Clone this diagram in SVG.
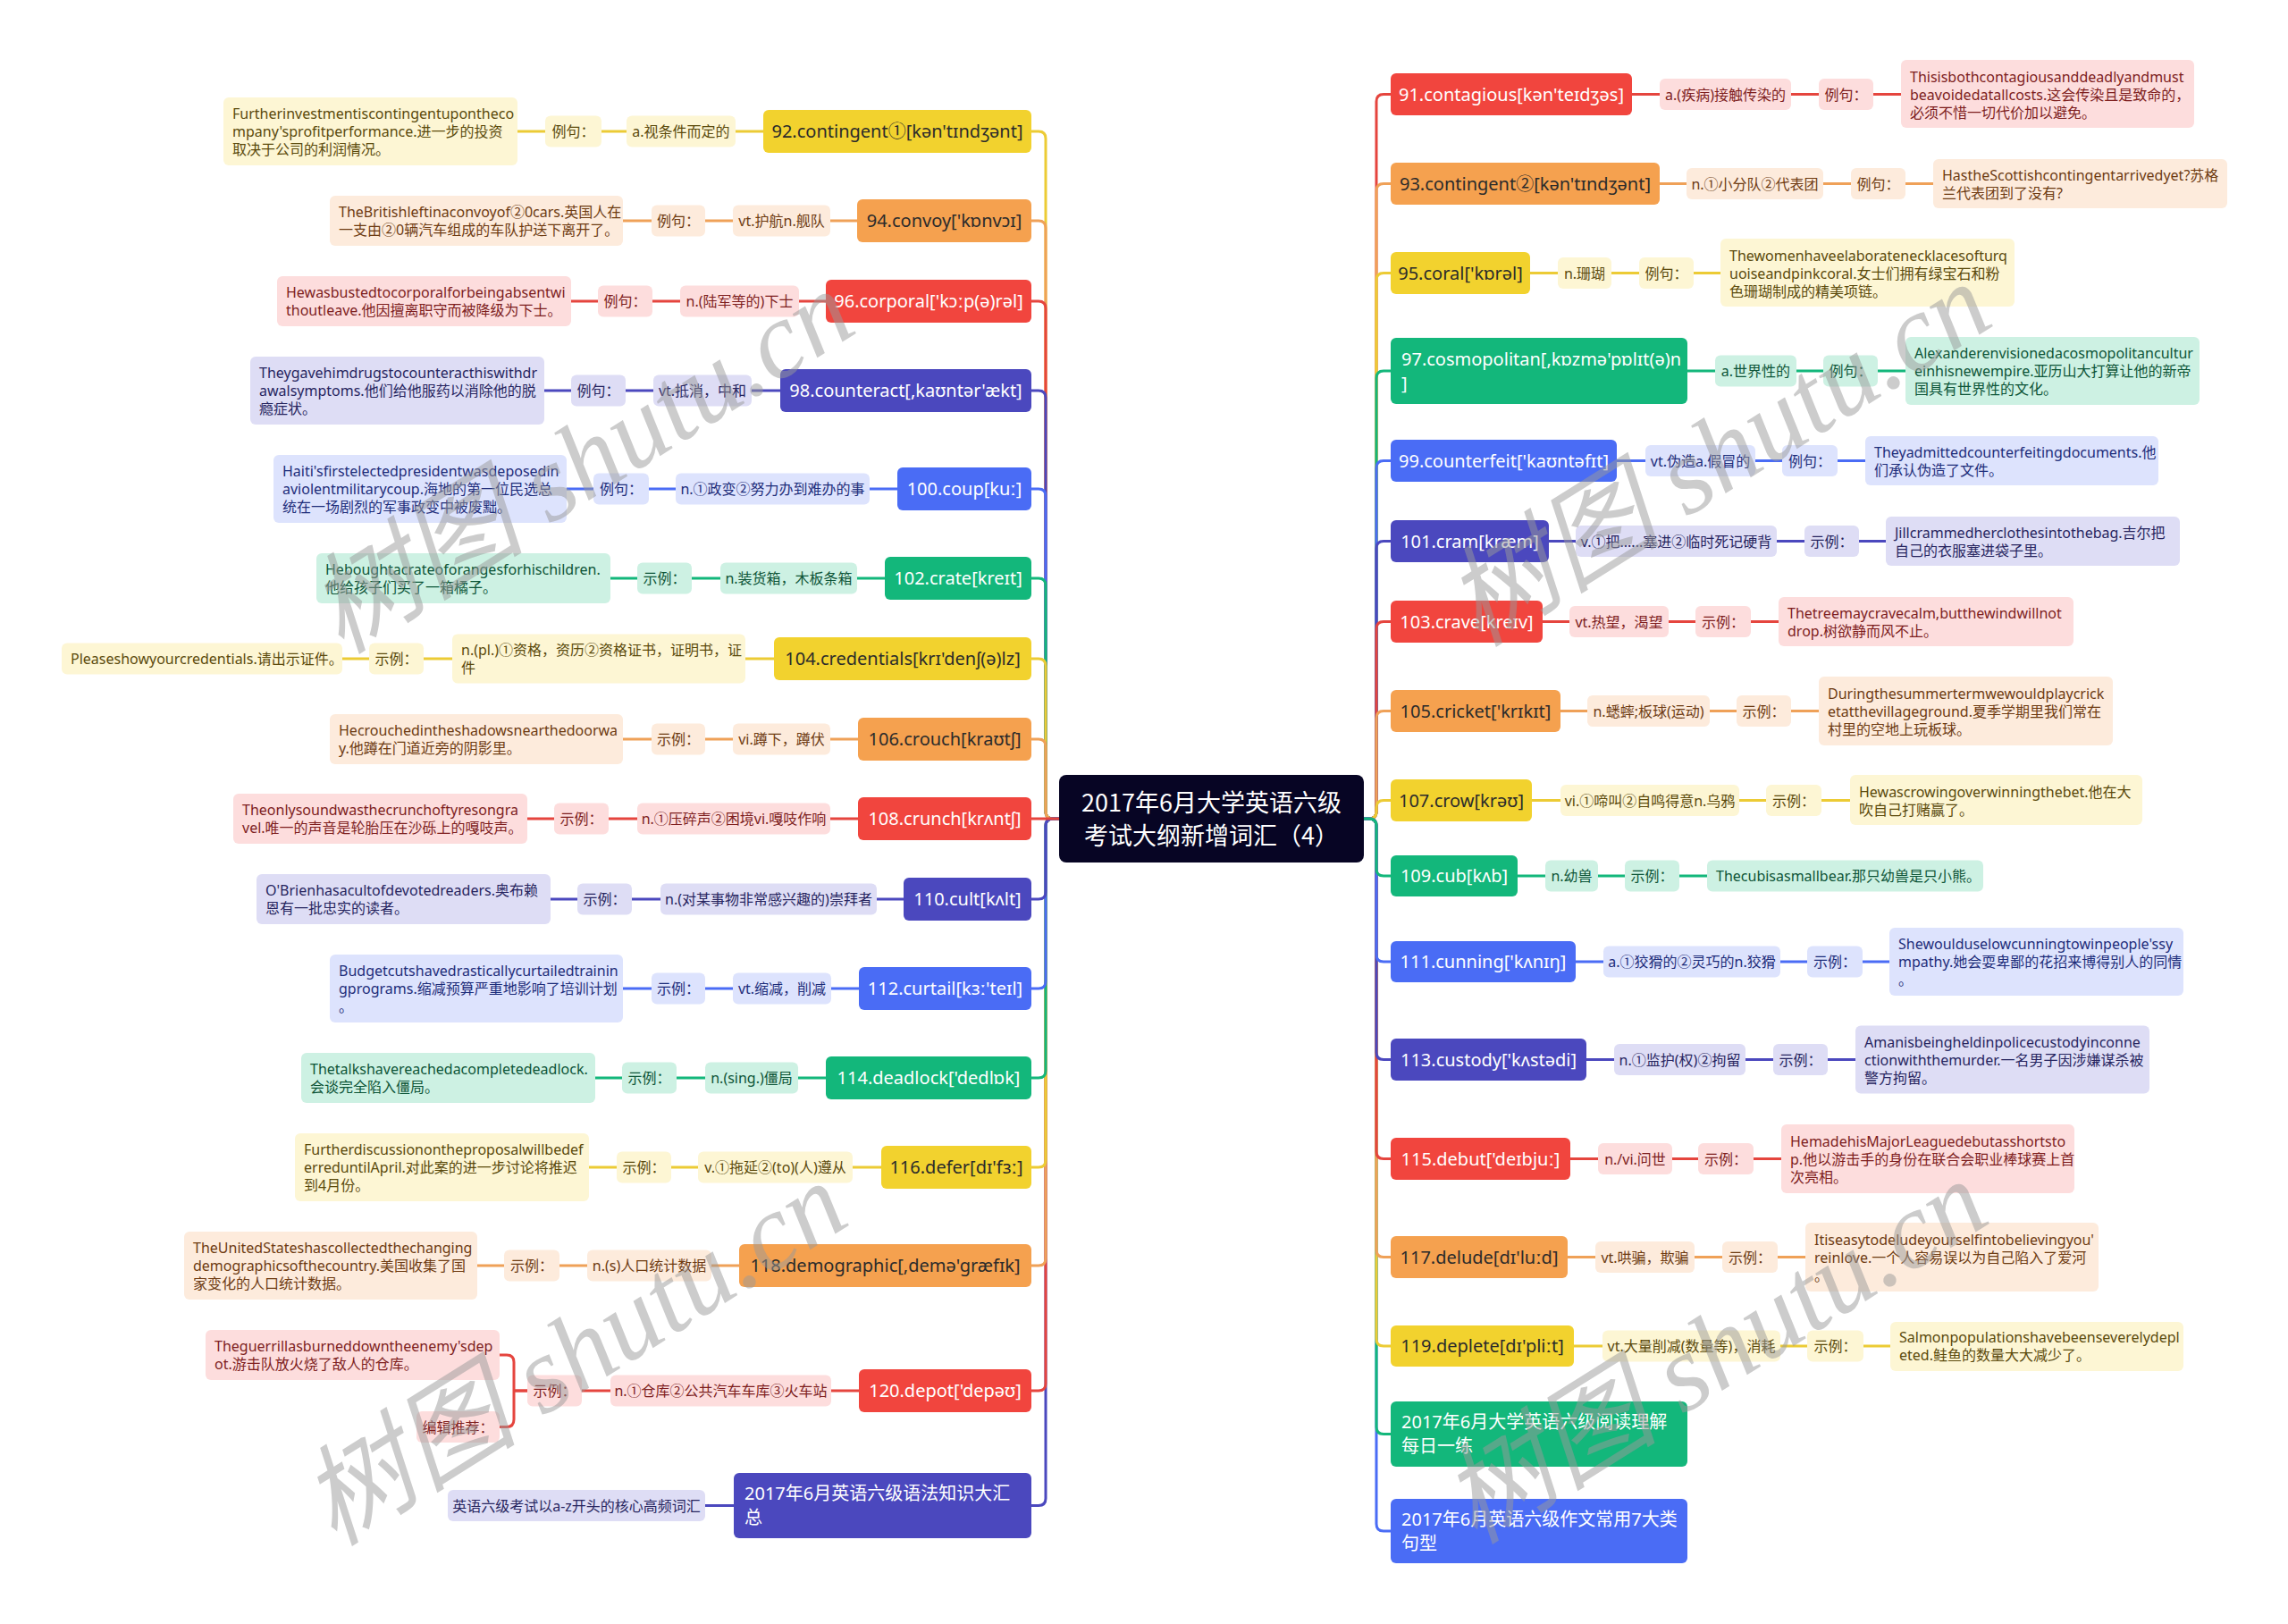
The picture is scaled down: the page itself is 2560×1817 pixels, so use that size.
<svg xmlns="http://www.w3.org/2000/svg" width="2560" height="1817" viewBox="0 0 2560 1817">
<style>
text{font-family:"Noto Sans","Noto Sans CJK SC",sans-serif}
.t{font-size:16px}
.tm{font-size:20px}
.c{text-anchor:middle}
.k{fill:#2b2b2b}.w{fill:#ffffff}
.fY{fill:#F2D22E}.lY{fill:#FDF6D4}.sY{stroke:#ECCB35}.dY{fill:#5B4A0C}
.fO{fill:#F5A14F}.lO{fill:#FDEBDC}.sO{stroke:#EFA158}.dO{fill:#6E3B12}
.fR{fill:#F1453E}.lR{fill:#FDDDDD}.sR{stroke:#E5453E}.dR{fill:#7E1E1E}
.fI{fill:#4B48BE}.lI{fill:#DEDDF5}.sI{stroke:#4B48BE}.dI{fill:#27255F}
.fB{fill:#4A6CF5}.lB{fill:#DDE3FD}.sB{stroke:#4A6CF5}.dB{fill:#1D2D7A}
.fG{fill:#13B77B}.lG{fill:#CDF1E3}.sG{stroke:#13B77B}.dG{fill:#0D5538}
#connectors path{fill:none;stroke-width:3}
.wm{font-family:"Liberation Serif","Noto Sans CJK SC",serif;font-style:italic;font-size:122px;fill:#9a9a9a;opacity:.5;text-anchor:middle}
.ttl{font-family:"Noto Sans CJK SC",sans-serif;font-size:27px;fill:#ffffff;text-anchor:middle}
</style>
<rect width="2560" height="1817" fill="#ffffff"/>
<g id="connectors">
<path class="sY" d="M1185,916 H1178 Q1170,916 1170,908 V155 Q1170,147 1162,147 H1154"/>
<path class="sO" d="M1185,916 H1178 Q1170,916 1170,908 V255 Q1170,247 1162,247 H1154"/>
<path class="sR" d="M1185,916 H1178 Q1170,916 1170,908 V345 Q1170,337 1162,337 H1154"/>
<path class="sI" d="M1185,916 H1178 Q1170,916 1170,908 V445 Q1170,437 1162,437 H1154"/>
<path class="sB" d="M1185,916 H1178 Q1170,916 1170,908 V555 Q1170,547 1162,547 H1154"/>
<path class="sG" d="M1185,916 H1178 Q1170,916 1170,908 V655 Q1170,647 1162,647 H1154"/>
<path class="sY" d="M1185,916 H1178 Q1170,916 1170,908 V745 Q1170,737 1162,737 H1154"/>
<path class="sO" d="M1185,916 H1178 Q1170,916 1170,908 V835 Q1170,827 1162,827 H1154"/>
<path class="sI" d="M1185,916 H1178 Q1170,916 1170,924 V1676.5 Q1170,1684.5 1162,1684.5 H1154"/>
<path class="sR" d="M1185,916 H1178 Q1170,916 1170,924 V1548 Q1170,1556 1162,1556 H1154"/>
<path class="sO" d="M1185,916 H1178 Q1170,916 1170,924 V1408 Q1170,1416 1162,1416 H1154"/>
<path class="sY" d="M1185,916 H1178 Q1170,916 1170,924 V1298 Q1170,1306 1162,1306 H1154"/>
<path class="sG" d="M1185,916 H1178 Q1170,916 1170,924 V1198 Q1170,1206 1162,1206 H1154"/>
<path class="sB" d="M1185,916 H1178 Q1170,916 1170,924 V1098 Q1170,1106 1162,1106 H1154"/>
<path class="sI" d="M1185,916 H1178 Q1170,916 1170,924 V998 Q1170,1006 1162,1006 H1154"/>
<path class="sR" d="M1185,916 H1154"/>
<path class="sR" d="M1526,916 H1532 Q1540,916 1540,908 V113.5 Q1540,105.5 1548,105.5 H1556"/>
<path class="sO" d="M1526,916 H1532 Q1540,916 1540,908 V213.5 Q1540,205.5 1548,205.5 H1556"/>
<path class="sY" d="M1526,916 H1532 Q1540,916 1540,908 V313.5 Q1540,305.5 1548,305.5 H1556"/>
<path class="sG" d="M1526,916 H1532 Q1540,916 1540,908 V423 Q1540,415 1548,415 H1556"/>
<path class="sB" d="M1526,916 H1532 Q1540,916 1540,908 V523.5 Q1540,515.5 1548,515.5 H1556"/>
<path class="sI" d="M1526,916 H1532 Q1540,916 1540,908 V613.5 Q1540,605.5 1548,605.5 H1556"/>
<path class="sR" d="M1526,916 H1532 Q1540,916 1540,908 V703.5 Q1540,695.5 1548,695.5 H1556"/>
<path class="sO" d="M1526,916 H1532 Q1540,916 1540,908 V803.5 Q1540,795.5 1548,795.5 H1556"/>
<path class="sY" d="M1526,916 H1532 Q1540,916 1540,908 V903.5 Q1540,895.5 1548,895.5 H1556"/>
<path class="sB" d="M1526,916 H1532 Q1540,916 1540,924 V1705 Q1540,1713 1548,1713 H1556"/>
<path class="sG" d="M1526,916 H1532 Q1540,916 1540,924 V1596.5 Q1540,1604.5 1548,1604.5 H1556"/>
<path class="sY" d="M1526,916 H1532 Q1540,916 1540,924 V1498 Q1540,1506 1548,1506 H1556"/>
<path class="sO" d="M1526,916 H1532 Q1540,916 1540,924 V1398.5 Q1540,1406.5 1548,1406.5 H1556"/>
<path class="sR" d="M1526,916 H1532 Q1540,916 1540,924 V1288.5 Q1540,1296.5 1548,1296.5 H1556"/>
<path class="sI" d="M1526,916 H1532 Q1540,916 1540,924 V1177.5 Q1540,1185.5 1548,1185.5 H1556"/>
<path class="sB" d="M1526,916 H1532 Q1540,916 1540,924 V1068 Q1540,1076 1548,1076 H1556"/>
<path class="sG" d="M1526,916 H1532 Q1540,916 1540,924 V972 Q1540,980 1548,980 H1556"/>
<path class="sY" d="M854,147 H579"/>
<path class="sO" d="M959,247 H697"/>
<path class="sR" d="M924,337 H639"/>
<path class="sI" d="M873,437 H609"/>
<path class="sB" d="M1004,547 H634"/>
<path class="sG" d="M990,647 H683"/>
<path class="sY" d="M866,737 H383"/>
<path class="sO" d="M960,827 H697"/>
<path class="sR" d="M960,916 H590"/>
<path class="sI" d="M1011,1006 H616"/>
<path class="sB" d="M961,1106 H697"/>
<path class="sG" d="M924,1206 H666"/>
<path class="sY" d="M986,1306 H659"/>
<path class="sO" d="M827,1416 H534"/>
<path class="sR" d="M961,1556 H575"/>
<path class="sR" d="M590,1556 H575 V1524 Q575,1516 567,1516 H559 M575,1556 V1588 Q575,1596.5 567,1596.5 H559"/>
<path class="sI" d="M821,1684.5 H789"/>
<path class="sR" d="M1826,105.5 H2127"/>
<path class="sO" d="M1857,205.5 H2163"/>
<path class="sY" d="M1712,305.5 H1925"/>
<path class="sG" d="M1888,415 H2132"/>
<path class="sB" d="M1809,515.5 H2087"/>
<path class="sI" d="M1733,605.5 H2110"/>
<path class="sR" d="M1726,695.5 H1990"/>
<path class="sO" d="M1746,795.5 H2035"/>
<path class="sY" d="M1714,895.5 H2070"/>
<path class="sG" d="M1698,980 H1910"/>
<path class="sB" d="M1763,1076 H2114"/>
<path class="sI" d="M1775,1185.5 H2076"/>
<path class="sR" d="M1757,1296.5 H1993"/>
<path class="sO" d="M1754,1406.5 H2020"/>
<path class="sY" d="M1761,1506 H2115"/>
</g>
<g id="center">
<rect x="1185" y="867" width="341" height="98" rx="8" fill="#070524"/>
<text class="ttl" x="1355.5" y="908">2017年6月大学英语六级</text>
<text class="ttl" x="1355.5" y="945">考试大纲新增词汇（4）</text>
</g>
<!-- LEFT -->
<g id="n92"><rect class="fY" x="854" y="123" width="300" height="48" rx="6"/><text class="tm k c" x="1004" y="154">92.contingent①[kən'tɪndʒənt]</text></g>
<g id="n92-def"><rect class="lY" x="701" y="129.5" width="122" height="35" rx="6"/><text class="t dY c" x="762" y="153">a.视条件而定的</text></g>
<g id="n92-lab"><rect class="lY" x="610" y="129.5" width="63" height="35" rx="6"/><text class="t dY c" x="641.5" y="153">例句：</text></g>
<g id="n92-ex"><rect class="lY" x="250" y="109" width="329" height="76" rx="6"/><text class="t dY"><tspan x="260" y="133">Furtherinvestmentiscontingentupontheco</tspan><tspan x="260" y="153">mpany'sprofitperformance.进一步的投资</tspan><tspan x="260" y="173">取决于公司的利润情况。</tspan></text></g>

<g id="n94"><rect class="fO" x="959" y="223" width="195" height="48" rx="6"/><text class="tm k c" x="1056.5" y="254">94.convoy['kɒnvɔɪ]</text></g>
<g id="n94-def"><rect class="lO" x="820" y="229.5" width="109" height="35" rx="6"/><text class="t dO c" x="874.5" y="253">vt.护航n.舰队</text></g>
<g id="n94-lab"><rect class="lO" x="729" y="229.5" width="60" height="35" rx="6"/><text class="t dO c" x="759" y="253">例句：</text></g>
<g id="n94-ex"><rect class="lO" x="369" y="219" width="328" height="56" rx="6"/><text class="t dO"><tspan x="379" y="243">TheBritishleftinaconvoyof②0cars.英国人在</tspan><tspan x="379" y="263">一支由②0辆汽车组成的车队护送下离开了。</tspan></text></g>

<g id="n96"><rect class="fR" x="924" y="313" width="230" height="48" rx="6"/><text class="tm w c" x="1039" y="344">96.corporal['kɔːp(ə)rəl]</text></g>
<g id="n96-def"><rect class="lR" x="761" y="319.5" width="133" height="35" rx="6"/><text class="t dR c" x="827.5" y="343">n.(陆军等的)下士</text></g>
<g id="n96-lab"><rect class="lR" x="669" y="319.5" width="61" height="35" rx="6"/><text class="t dR c" x="699.5" y="343">例句：</text></g>
<g id="n96-ex"><rect class="lR" x="310" y="309" width="329" height="56" rx="6"/><text class="t dR"><tspan x="320" y="333">Hewasbustedtocorporalforbeingabsentwi</tspan><tspan x="320" y="353">thoutleave.他因擅离职守而被降级为下士。</tspan></text></g>

<g id="n98"><rect class="fI" x="873" y="413" width="281" height="48" rx="6"/><text class="tm w c" x="1013.5" y="444">98.counteract[,kaʊntər'ækt]</text></g>
<g id="n98-def"><rect class="lI" x="731" y="419.5" width="110" height="35" rx="6"/><text class="t dI c" x="786" y="443">vt.抵消，中和</text></g>
<g id="n98-lab"><rect class="lI" x="639" y="419.5" width="61" height="35" rx="6"/><text class="t dI c" x="669.5" y="443">例句：</text></g>
<g id="n98-ex"><rect class="lI" x="280" y="399" width="329" height="76" rx="6"/><text class="t dI"><tspan x="290" y="423">Theygavehimdrugstocounteracthiswithdr</tspan><tspan x="290" y="443">awalsymptoms.他们给他服药以消除他的脱</tspan><tspan x="290" y="463">瘾症状。</tspan></text></g>

<g id="n100"><rect class="fB" x="1004" y="523" width="150" height="48" rx="6"/><text class="tm w c" x="1079" y="554">100.coup[kuː]</text></g>
<g id="n100-def"><rect class="lB" x="756" y="529.5" width="217" height="35" rx="6"/><text class="t dB c" x="864.5" y="553">n.①政变②努力办到难办的事</text></g>
<g id="n100-lab"><rect class="lB" x="664" y="529.5" width="62" height="35" rx="6"/><text class="t dB c" x="695" y="553">例句：</text></g>
<g id="n100-ex"><rect class="lB" x="306" y="509" width="328" height="76" rx="6"/><text class="t dB"><tspan x="316" y="533">Haiti'sfirstelectedpresidentwasdeposedin</tspan><tspan x="316" y="553">aviolentmilitarycoup.海地的第一位民选总</tspan><tspan x="316" y="573">统在一场剧烈的军事政变中被废黜。</tspan></text></g>

<g id="n102"><rect class="fG" x="990" y="623" width="164" height="48" rx="6"/><text class="tm w c" x="1072" y="654">102.crate[kreɪt]</text></g>
<g id="n102-def"><rect class="lG" x="806" y="629.5" width="153" height="35" rx="6"/><text class="t dG c" x="882.5" y="653">n.装货箱，木板条箱</text></g>
<g id="n102-lab"><rect class="lG" x="713" y="629.5" width="61" height="35" rx="6"/><text class="t dG c" x="743.5" y="653">示例：</text></g>
<g id="n102-ex"><rect class="lG" x="354" y="619" width="329" height="56" rx="6"/><text class="t dG"><tspan x="364" y="643">Heboughtacrateoforangesforhischildren.</tspan><tspan x="364" y="663">他给孩子们买了一箱橘子。</tspan></text></g>

<g id="n104"><rect class="fY" x="866" y="713" width="288" height="48" rx="6"/><text class="tm k c" x="1010" y="744">104.credentials[krɪ'denʃ(ə)lz]</text></g>
<g id="n104-def"><rect class="lY" x="506" y="709.5" width="328" height="55" rx="6"/><text class="t dY"><tspan x="516" y="733">n.(pl.)①资格，资历②资格证书，证明书，证</tspan><tspan x="516" y="753">件</tspan></text></g>
<g id="n104-lab"><rect class="lY" x="413" y="719.5" width="61" height="35" rx="6"/><text class="t dY c" x="443.5" y="743">示例：</text></g>
<g id="n104-ex"><rect class="lY" x="69" y="719.5" width="314" height="35" rx="6"/><text class="t dY" x="79" y="743">Pleaseshowyourcredentials.请出示证件。</text></g>

<g id="n106"><rect class="fO" x="960" y="803" width="194" height="48" rx="6"/><text class="tm k c" x="1057" y="834">106.crouch[kraʊtʃ]</text></g>
<g id="n106-def"><rect class="lO" x="820" y="809.5" width="109" height="35" rx="6"/><text class="t dO c" x="874.5" y="833">vi.蹲下，蹲伏</text></g>
<g id="n106-lab"><rect class="lO" x="729" y="809.5" width="60" height="35" rx="6"/><text class="t dO c" x="759" y="833">示例：</text></g>
<g id="n106-ex"><rect class="lO" x="369" y="799" width="328" height="56" rx="6"/><text class="t dO"><tspan x="379" y="823">Hecrouchedintheshadowsnearthedoorwa</tspan><tspan x="379" y="843">y.他蹲在门道近旁的阴影里。</tspan></text></g>

<g id="n108"><rect class="fR" x="960" y="892" width="194" height="48" rx="6"/><text class="tm w c" x="1057" y="923">108.crunch[krʌntʃ]</text></g>
<g id="n108-def"><rect class="lR" x="713" y="898.5" width="216" height="35" rx="6"/><text class="t dR c" x="821" y="922">n.①压碎声②困境vi.嘎吱作响</text></g>
<g id="n108-lab"><rect class="lR" x="620" y="898.5" width="61" height="35" rx="6"/><text class="t dR c" x="650.5" y="922">示例：</text></g>
<g id="n108-ex"><rect class="lR" x="261" y="888" width="329" height="56" rx="6"/><text class="t dR"><tspan x="271" y="912">Theonlysoundwasthecrunchoftyresongra</tspan><tspan x="271" y="932">vel.唯一的声音是轮胎压在沙砾上的嘎吱声。</tspan></text></g>

<g id="n110"><rect class="fI" x="1011" y="982" width="143" height="48" rx="6"/><text class="tm w c" x="1082.5" y="1013">110.cult[kʌlt]</text></g>
<g id="n110-def"><rect class="lI" x="739" y="988.5" width="242" height="35" rx="6"/><text class="t dI c" x="860" y="1012">n.(对某事物非常感兴趣的)崇拜者</text></g>
<g id="n110-lab"><rect class="lI" x="646" y="988.5" width="61" height="35" rx="6"/><text class="t dI c" x="676.5" y="1012">示例：</text></g>
<g id="n110-ex"><rect class="lI" x="287" y="978" width="329" height="56" rx="6"/><text class="t dI"><tspan x="297" y="1002">O'Brienhasacultofdevotedreaders.奥布赖</tspan><tspan x="297" y="1022">恩有一批忠实的读者。</tspan></text></g>

<g id="n112"><rect class="fB" x="961" y="1082" width="193" height="48" rx="6"/><text class="tm w c" x="1057.5" y="1113">112.curtail[kɜː'teɪl]</text></g>
<g id="n112-def"><rect class="lB" x="820" y="1088.5" width="110" height="35" rx="6"/><text class="t dB c" x="875" y="1112">vt.缩减，削减</text></g>
<g id="n112-lab"><rect class="lB" x="729" y="1088.5" width="60" height="35" rx="6"/><text class="t dB c" x="759" y="1112">示例：</text></g>
<g id="n112-ex"><rect class="lB" x="369" y="1068" width="328" height="76" rx="6"/><text class="t dB"><tspan x="379" y="1092">Budgetcutshavedrasticallycurtailedtrainin</tspan><tspan x="379" y="1112">gprograms.缩减预算严重地影响了培训计划</tspan><tspan x="379" y="1132">。</tspan></text></g>

<g id="n114"><rect class="fG" x="924" y="1182" width="230" height="48" rx="6"/><text class="tm w c" x="1039" y="1213">114.deadlock['dedlɒk]</text></g>
<g id="n114-def"><rect class="lG" x="789" y="1188.5" width="104" height="35" rx="6"/><text class="t dG c" x="841" y="1212">n.(sing.)僵局</text></g>
<g id="n114-lab"><rect class="lG" x="696" y="1188.5" width="61" height="35" rx="6"/><text class="t dG c" x="726.5" y="1212">示例：</text></g>
<g id="n114-ex"><rect class="lG" x="337" y="1178" width="329" height="56" rx="6"/><text class="t dG"><tspan x="347" y="1202">Thetalkshavereachedacompletedeadlock.</tspan><tspan x="347" y="1222">会谈完全陷入僵局。</tspan></text></g>

<g id="n116"><rect class="fY" x="986" y="1282" width="168" height="48" rx="6"/><text class="tm k c" x="1070" y="1313">116.defer[dɪ'fɜː]</text></g>
<g id="n116-def"><rect class="lY" x="781" y="1288.5" width="173" height="35" rx="6"/><text class="t dY c" x="867.5" y="1312">v.①拖延②(to)(人)遵从</text></g>
<g id="n116-lab"><rect class="lY" x="690" y="1288.5" width="61" height="35" rx="6"/><text class="t dY c" x="720.5" y="1312">示例：</text></g>
<g id="n116-ex"><rect class="lY" x="330" y="1268" width="329" height="76" rx="6"/><text class="t dY"><tspan x="340" y="1292">Furtherdiscussionontheproposalwillbedef</tspan><tspan x="340" y="1312">erreduntilApril.对此案的进一步讨论将推迟</tspan><tspan x="340" y="1332">到4月份。</tspan></text></g>

<g id="n118"><rect class="fO" x="827" y="1392" width="327" height="48" rx="6"/><text class="tm k c" x="990.5" y="1423">118.demographic[,demə'græfɪk]</text></g>
<g id="n118-def"><rect class="lO" x="657" y="1398.5" width="139" height="35" rx="6"/><text class="t dO c" x="726.5" y="1422">n.(s)人口统计数据</text></g>
<g id="n118-lab"><rect class="lO" x="564" y="1398.5" width="62" height="35" rx="6"/><text class="t dO c" x="595" y="1422">示例：</text></g>
<g id="n118-ex"><rect class="lO" x="206" y="1378" width="328" height="76" rx="6"/><text class="t dO"><tspan x="216" y="1402">TheUnitedStateshascollectedthechanging</tspan><tspan x="216" y="1422">demographicsofthecountry.美国收集了国</tspan><tspan x="216" y="1442">家变化的人口统计数据。</tspan></text></g>

<g id="n120"><rect class="fR" x="961" y="1532" width="193" height="48" rx="6"/><text class="tm w c" x="1057.5" y="1563">120.depot['depəʊ]</text></g>
<g id="n120-def"><rect class="lR" x="683" y="1538.5" width="247" height="35" rx="6"/><text class="t dR c" x="806.5" y="1562">n.①仓库②公共汽车车库③火车站</text></g>
<g id="n120-lab"><rect class="lR" x="590" y="1538.5" width="61" height="35" rx="6"/><text class="t dR c" x="620.5" y="1562">示例：</text></g>
<g id="n120-ex"><rect class="lR" x="230" y="1488" width="329" height="56" rx="6"/><text class="t dR"><tspan x="240" y="1512">Theguerrillasburneddowntheenemy'sdep</tspan><tspan x="240" y="1532">ot.游击队放火烧了敌人的仓库。</tspan></text></g>
<g id="n120-rec"><rect class="lR" x="466" y="1579" width="93" height="35" rx="6"/><text class="t dR c" x="512.5" y="1602.5">编辑推荐：</text></g>

<g id="n-grammar"><rect class="fI" x="821" y="1648" width="333" height="73" rx="6"/><text class="tm w"><tspan x="833" y="1678">2017年6月英语六级语法知识大汇</tspan><tspan x="833" y="1705">总</tspan></text></g>
<g id="n-grammar-sub"><rect class="lI" x="501" y="1667" width="288" height="35" rx="6"/><text class="t dI c" x="645" y="1690.5">英语六级考试以a-z开头的核心高频词汇</text></g>

<!-- RIGHT -->
<g id="n91"><rect class="fR" x="1556" y="82" width="270" height="47" rx="6"/><text class="tm w c" x="1691" y="112.5">91.contagious[kən'teɪdʒəs]</text></g>
<g id="n91-def"><rect class="lR" x="1857" y="88" width="147" height="35" rx="6"/><text class="t dR c" x="1930.5" y="111.5">a.(疾病)接触传染的</text></g>
<g id="n91-lab"><rect class="lR" x="2035" y="88" width="61" height="35" rx="6"/><text class="t dR c" x="2065.5" y="111.5">例句：</text></g>
<g id="n91-ex"><rect class="lR" x="2127" y="67" width="328" height="76" rx="6"/><text class="t dR"><tspan x="2137" y="91.5">Thisisbothcontagiousanddeadlyandmust</tspan><tspan x="2137" y="111.5">beavoidedatallcosts.这会传染且是致命的，</tspan><tspan x="2137" y="131.5">必须不惜一切代价加以避免。</tspan></text></g>

<g id="n93"><rect class="fO" x="1556" y="182" width="301" height="47" rx="6"/><text class="tm k c" x="1706.5" y="212.5">93.contingent②[kən'tɪndʒənt]</text></g>
<g id="n93-def"><rect class="lO" x="1887" y="188" width="153" height="35" rx="6"/><text class="t dO c" x="1963.5" y="211.5">n.①小分队②代表团</text></g>
<g id="n93-lab"><rect class="lO" x="2071" y="188" width="61" height="35" rx="6"/><text class="t dO c" x="2101.5" y="211.5">例句：</text></g>
<g id="n93-ex"><rect class="lO" x="2163" y="178" width="329" height="55" rx="6"/><text class="t dO"><tspan x="2173" y="201.5">HastheScottishcontingentarrivedyet?苏格</tspan><tspan x="2173" y="221.5">兰代表团到了没有?</tspan></text></g>

<g id="n95"><rect class="fY" x="1556" y="282" width="156" height="47" rx="6"/><text class="tm k c" x="1634" y="312.5">95.coral['kɒrəl]</text></g>
<g id="n95-def"><rect class="lY" x="1743" y="288" width="60" height="35" rx="6"/><text class="t dY c" x="1773" y="311.5">n.珊瑚</text></g>
<g id="n95-lab"><rect class="lY" x="1834" y="288" width="61" height="35" rx="6"/><text class="t dY c" x="1864.5" y="311.5">例句：</text></g>
<g id="n95-ex"><rect class="lY" x="1925" y="267" width="329" height="76" rx="6"/><text class="t dY"><tspan x="1935" y="291.5">Thewomenhaveelaboratenecklacesofturq</tspan><tspan x="1935" y="311.5">uoiseandpinkcoral.女士们拥有绿宝石和粉</tspan><tspan x="1935" y="331.5">色珊瑚制成的精美项链。</tspan></text></g>

<g id="n97"><rect class="fG" x="1556" y="378" width="332" height="74" rx="6"/><text class="tm w"><tspan x="1568" y="408.5">97.cosmopolitan[,kɒzmə'pɒlɪt(ə)n</tspan><tspan x="1568" y="435.5">]</tspan></text></g>
<g id="n97-def"><rect class="lG" x="1919" y="397.5" width="91" height="35" rx="6"/><text class="t dG c" x="1964.5" y="421">a.世界性的</text></g>
<g id="n97-lab"><rect class="lG" x="2040" y="397.5" width="61" height="35" rx="6"/><text class="t dG c" x="2070.5" y="421">例句：</text></g>
<g id="n97-ex"><rect class="lG" x="2132" y="377" width="329" height="76" rx="6"/><text class="t dG"><tspan x="2142" y="401">Alexanderenvisionedacosmopolitancultur</tspan><tspan x="2142" y="421">einhisnewempire.亚历山大打算让他的新帝</tspan><tspan x="2142" y="441">国具有世界性的文化。</tspan></text></g>

<g id="n99"><rect class="fB" x="1556" y="492" width="253" height="47" rx="6"/><text class="tm w c" x="1682.5" y="522.5">99.counterfeit['kaʊntəfɪt]</text></g>
<g id="n99-def"><rect class="lB" x="1841" y="498" width="123" height="35" rx="6"/><text class="t dB c" x="1902.5" y="521.5">vt.伪造a.假冒的</text></g>
<g id="n99-lab"><rect class="lB" x="1994" y="498" width="62" height="35" rx="6"/><text class="t dB c" x="2025" y="521.5">例句：</text></g>
<g id="n99-ex"><rect class="lB" x="2087" y="488" width="328" height="55" rx="6"/><text class="t dB"><tspan x="2097" y="511.5">Theyadmittedcounterfeitingdocuments.他</tspan><tspan x="2097" y="531.5">们承认伪造了文件。</tspan></text></g>

<g id="n101"><rect class="fI" x="1556" y="582" width="177" height="47" rx="6"/><text class="tm w c" x="1644.5" y="612.5">101.cram[kræm]</text></g>
<g id="n101-def"><rect class="lI" x="1763" y="588" width="225" height="35" rx="6"/><text class="t dI c" x="1875.5" y="611.5">v.①把......塞进②临时死记硬背</text></g>
<g id="n101-lab"><rect class="lI" x="2019" y="588" width="61" height="35" rx="6"/><text class="t dI c" x="2049.5" y="611.5">示例：</text></g>
<g id="n101-ex"><rect class="lI" x="2110" y="578" width="329" height="55" rx="6"/><text class="t dI"><tspan x="2120" y="601.5">Jillcrammedherclothesintothebag.吉尔把</tspan><tspan x="2120" y="621.5">自己的衣服塞进袋子里。</tspan></text></g>

<g id="n103"><rect class="fR" x="1556" y="672" width="170" height="47" rx="6"/><text class="tm w c" x="1641" y="702.5">103.crave[kreɪv]</text></g>
<g id="n103-def"><rect class="lR" x="1756" y="678" width="111" height="35" rx="6"/><text class="t dR c" x="1811.5" y="701.5">vt.热望，渴望</text></g>
<g id="n103-lab"><rect class="lR" x="1897" y="678" width="62" height="35" rx="6"/><text class="t dR c" x="1928" y="701.5">示例：</text></g>
<g id="n103-ex"><rect class="lR" x="1990" y="668" width="330" height="55" rx="6"/><text class="t dR"><tspan x="2000" y="691.5">Thetreemaycravecalm,butthewindwillnot</tspan><tspan x="2000" y="711.5">drop.树欲静而风不止。</tspan></text></g>

<g id="n105"><rect class="fO" x="1556" y="772" width="190" height="47" rx="6"/><text class="tm k c" x="1651" y="802.5">105.cricket['krɪkɪt]</text></g>
<g id="n105-def"><rect class="lO" x="1776" y="778" width="137" height="35" rx="6"/><text class="t dO c" x="1844.5" y="801.5">n.蟋蟀;板球(运动)</text></g>
<g id="n105-lab"><rect class="lO" x="1943" y="778" width="61" height="35" rx="6"/><text class="t dO c" x="1973.5" y="801.5">示例：</text></g>
<g id="n105-ex"><rect class="lO" x="2035" y="757" width="329" height="77" rx="6"/><text class="t dO"><tspan x="2045" y="781.5">Duringthesummertermwewouldplaycrick</tspan><tspan x="2045" y="801.5">etatthevillageground.夏季学期里我们常在</tspan><tspan x="2045" y="821.5">村里的空地上玩板球。</tspan></text></g>

<g id="n107"><rect class="fY" x="1556" y="872" width="158" height="47" rx="6"/><text class="tm k c" x="1635" y="902.5">107.crow[krəʊ]</text></g>
<g id="n107-def"><rect class="lY" x="1746" y="878" width="200" height="35" rx="6"/><text class="t dY c" x="1846" y="901.5">vi.①啼叫②自鸣得意n.乌鸦</text></g>
<g id="n107-lab"><rect class="lY" x="1976" y="878" width="62" height="35" rx="6"/><text class="t dY c" x="2007" y="901.5">示例：</text></g>
<g id="n107-ex"><rect class="lY" x="2070" y="867" width="327" height="56" rx="6"/><text class="t dY"><tspan x="2080" y="891.5">Hewascrowingoverwinningthebet.他在大</tspan><tspan x="2080" y="911.5">吹自己打赌赢了。</tspan></text></g>

<g id="n109"><rect class="fG" x="1556" y="957" width="142" height="46" rx="6"/><text class="tm w c" x="1627" y="987">109.cub[kʌb]</text></g>
<g id="n109-def"><rect class="lG" x="1729" y="962.5" width="59" height="35" rx="6"/><text class="t dG c" x="1758.5" y="986">n.幼兽</text></g>
<g id="n109-lab"><rect class="lG" x="1818" y="962.5" width="61" height="35" rx="6"/><text class="t dG c" x="1848.5" y="986">示例：</text></g>
<g id="n109-ex"><rect class="lG" x="1910" y="962.5" width="309" height="35" rx="6"/><text class="t dG" x="1920" y="986">Thecubisasmallbear.那只幼兽是只小熊。</text></g>

<g id="n111"><rect class="fB" x="1556" y="1053" width="207" height="46" rx="6"/><text class="tm w c" x="1659.5" y="1083">111.cunning['kʌnɪŋ]</text></g>
<g id="n111-def"><rect class="lB" x="1794" y="1058.5" width="198" height="35" rx="6"/><text class="t dB c" x="1893" y="1082">a.①狡猾的②灵巧的n.狡猾</text></g>
<g id="n111-lab"><rect class="lB" x="2022" y="1058.5" width="62" height="35" rx="6"/><text class="t dB c" x="2053" y="1082">示例：</text></g>
<g id="n111-ex"><rect class="lB" x="2114" y="1038" width="329" height="76" rx="6"/><text class="t dB"><tspan x="2124" y="1062">Shewoulduselowcunningtowinpeople'ssy</tspan><tspan x="2124" y="1082">mpathy.她会耍卑鄙的花招来博得别人的同情</tspan><tspan x="2124" y="1102">。</tspan></text></g>

<g id="n113"><rect class="fI" x="1556" y="1162" width="219" height="47" rx="6"/><text class="tm w c" x="1665.5" y="1192.5">113.custody['kʌstədi]</text></g>
<g id="n113-def"><rect class="lI" x="1806" y="1168" width="147" height="35" rx="6"/><text class="t dI c" x="1879.5" y="1191.5">n.①监护(权)②拘留</text></g>
<g id="n113-lab"><rect class="lI" x="1984" y="1168" width="61" height="35" rx="6"/><text class="t dI c" x="2014.5" y="1191.5">示例：</text></g>
<g id="n113-ex"><rect class="lI" x="2076" y="1147.5" width="329" height="76" rx="6"/><text class="t dI"><tspan x="2086" y="1171.5">Amanisbeingheldinpolicecustodyinconne</tspan><tspan x="2086" y="1191.5">ctionwiththemurder.一名男子因涉嫌谋杀被</tspan><tspan x="2086" y="1211.5">警方拘留。</tspan></text></g>

<g id="n115"><rect class="fR" x="1556" y="1273" width="201" height="47" rx="6"/><text class="tm w c" x="1656.5" y="1303.5">115.debut['deɪbjuː]</text></g>
<g id="n115-def"><rect class="lR" x="1788" y="1279" width="83" height="35" rx="6"/><text class="t dR c" x="1829.5" y="1302.5">n./vi.问世</text></g>
<g id="n115-lab"><rect class="lR" x="1900" y="1279" width="62" height="35" rx="6"/><text class="t dR c" x="1931" y="1302.5">示例：</text></g>
<g id="n115-ex"><rect class="lR" x="1993" y="1258" width="328" height="77" rx="6"/><text class="t dR"><tspan x="2003" y="1282.5">HemadehisMajorLeaguedebutasshortsto</tspan><tspan x="2003" y="1302.5">p.他以游击手的身份在联合会职业棒球赛上首</tspan><tspan x="2003" y="1322.5">次亮相。</tspan></text></g>

<g id="n117"><rect class="fO" x="1556" y="1383" width="198" height="47" rx="6"/><text class="tm k c" x="1655" y="1413.5">117.delude[dɪ'luːd]</text></g>
<g id="n117-def"><rect class="lO" x="1785" y="1389" width="111" height="35" rx="6"/><text class="t dO c" x="1840.5" y="1412.5">vt.哄骗，欺骗</text></g>
<g id="n117-lab"><rect class="lO" x="1927" y="1389" width="62" height="35" rx="6"/><text class="t dO c" x="1958" y="1412.5">示例：</text></g>
<g id="n117-ex"><rect class="lO" x="2020" y="1368" width="328" height="77" rx="6"/><text class="t dO"><tspan x="2030" y="1392.5">Itiseasytodeludeyourselfintobelievingyou'</tspan><tspan x="2030" y="1412.5">reinlove.一个人容易误以为自己陷入了爱河</tspan><tspan x="2030" y="1432.5">。</tspan></text></g>

<g id="n119"><rect class="fY" x="1556" y="1483" width="205" height="46" rx="6"/><text class="tm k c" x="1658.5" y="1513">119.deplete[dɪ'pliːt]</text></g>
<g id="n119-def"><rect class="lY" x="1793" y="1488.5" width="199" height="35" rx="6"/><text class="t dY c" x="1892.5" y="1512">vt.大量削减(数量等)，消耗</text></g>
<g id="n119-lab"><rect class="lY" x="2022" y="1488.5" width="63" height="35" rx="6"/><text class="t dY c" x="2053.5" y="1512">示例：</text></g>
<g id="n119-ex"><rect class="lY" x="2115" y="1479" width="328" height="55" rx="6"/><text class="t dY"><tspan x="2125" y="1502">Salmonpopulationshavebeenseverelydepl</tspan><tspan x="2125" y="1522">eted.鲑鱼的数量大大减少了。</tspan></text></g>

<g id="n-reading"><rect class="fG" x="1556" y="1568" width="332" height="73" rx="6"/><text class="tm w"><tspan x="1568" y="1598">2017年6月大学英语六级阅读理解</tspan><tspan x="1568" y="1625">每日一练</tspan></text></g>
<g id="n-writing"><rect class="fB" x="1556" y="1677" width="332" height="72" rx="6"/><text class="tm w"><tspan x="1568" y="1706.5">2017年6月英语六级作文常用7大类</tspan><tspan x="1568" y="1733.5">句型</tspan></text></g>

<g id="watermarks">
<text class="wm" x="650" y="558" transform="rotate(-32 650 516)">树图 shutu.cn</text>
<text class="wm" x="642" y="1556" transform="rotate(-32 642 1514)">树图 shutu.cn</text>
<text class="wm" x="1922" y="550" transform="rotate(-32 1922 508)">树图 shutu.cn</text>
<text class="wm" x="1918" y="1554" transform="rotate(-32 1918 1512)">树图 shutu.cn</text>
</g>
</svg>
